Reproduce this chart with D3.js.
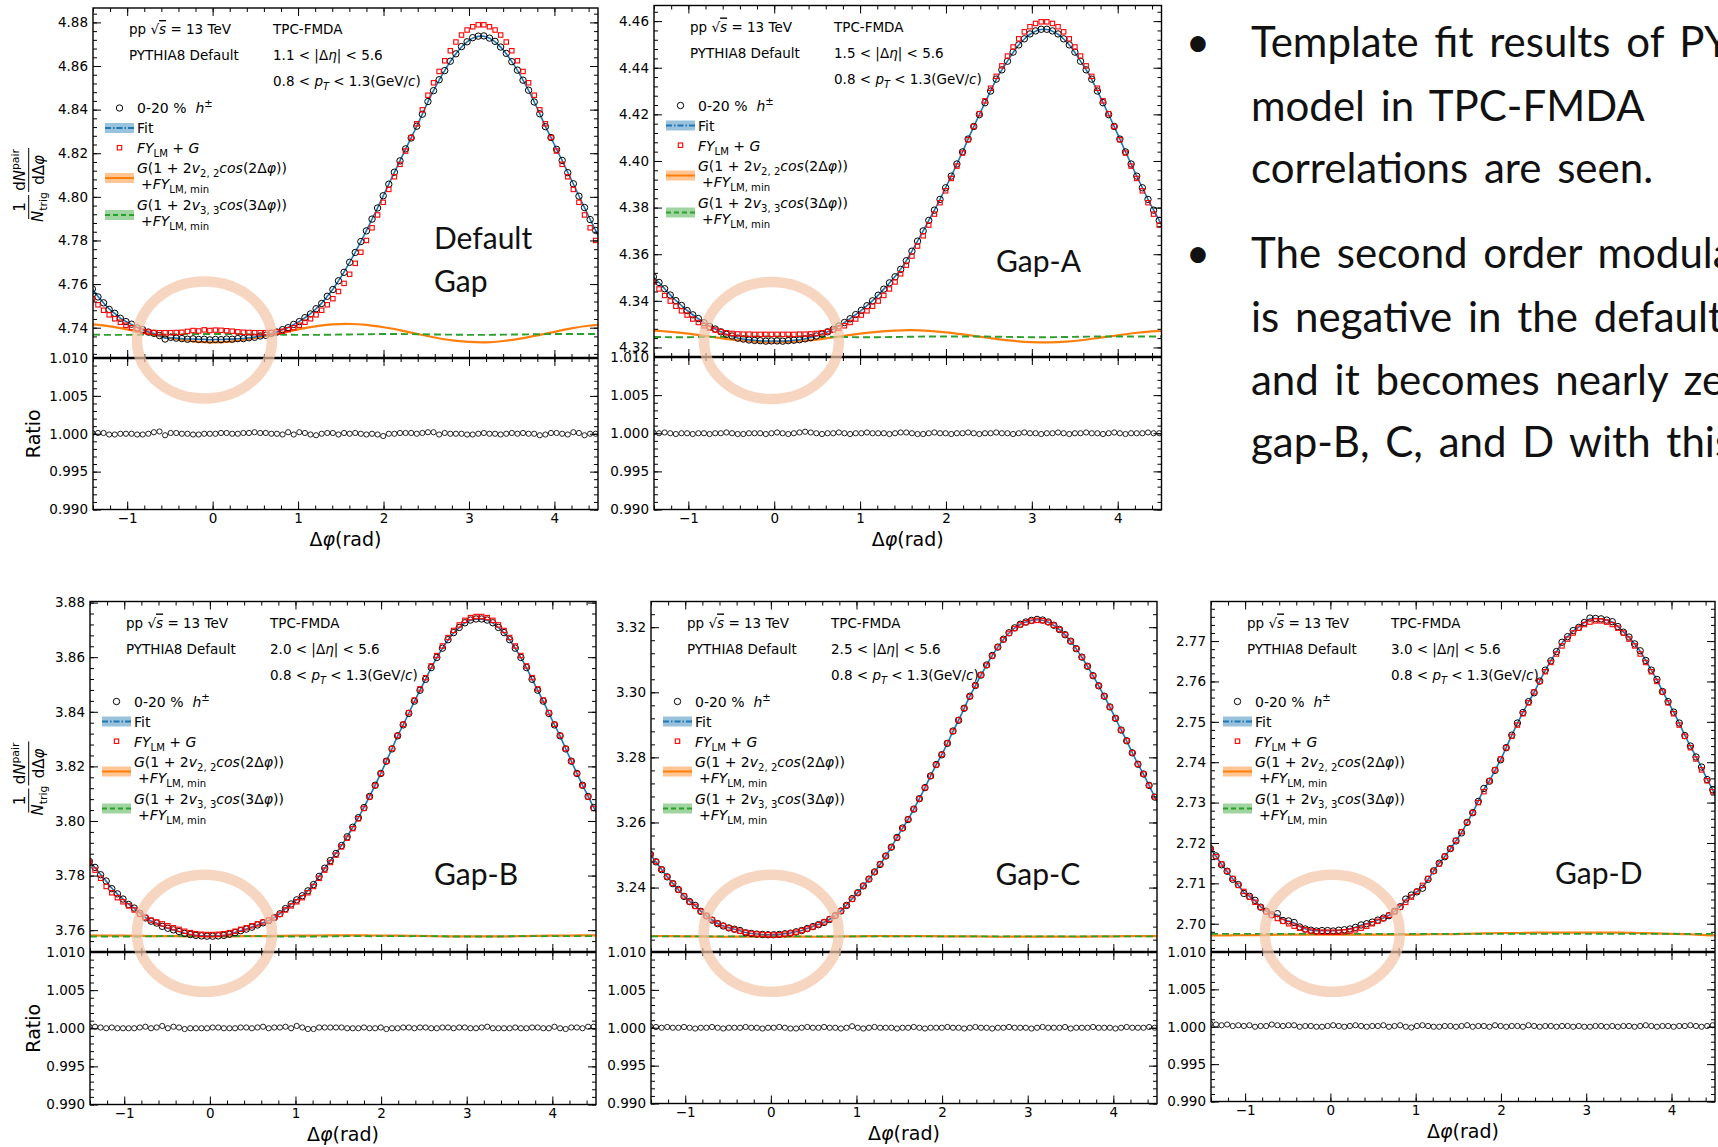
<!DOCTYPE html>
<html lang="en">
<head>
<meta charset="UTF-8">
<title>Template fit results, PYTHIA8</title>
<style>
  html, body { margin: 0; padding: 0; background: #fff; overflow: hidden; }
  #fig text { font-family: "DejaVu Sans", sans-serif; white-space: pre; }
  #fig .note { font-family: Lato, "Open Sans", sans-serif; word-spacing: 5px; }
  #fig .tag { font-family: Lato, "Open Sans", sans-serif; }
</style>
</head>
<body>
<svg id="fig"></svg>
<script src="https://d3js.org/d3.v7.min.js"></script>
<script>
// ---------------- data ----------------
// 92 delta-phi bins, only -1.40 .. 4.51 is visible
const phi = d3.range(92).map(i => -1.4071 + i * 0.06545);
// sampling of the two template curves
const phiCurve = d3.range(31).map(i => -1.4 + i * 0.2);

// Default gap, 1.1 < |deta| < 5.6
const defData = [
  4.7578, 4.7541, 4.7514, 4.7484, 4.7466, 4.7443, 4.7428, 4.7416, 4.7399, 4.7391,
  4.7380, 4.7374, 4.7364, 4.7348, 4.7356, 4.7352, 4.7350, 4.7347, 4.7349, 4.7346,
  4.7347, 4.7344,
  4.7346, 4.7345, 4.7348, 4.7347, 4.7350, 4.7350, 4.7354, 4.7356, 4.7362, 4.7365,
  4.7374, 4.7380, 4.7391, 4.7400, 4.7415, 4.7428, 4.7446, 4.7463, 4.7487, 4.7511,
  4.7544, 4.7575, 4.7615, 4.7654, 4.7700, 4.7745, 4.7795, 4.7844, 4.7898, 4.7949,
  4.8005, 4.8058, 4.8113, 4.8165, 4.8220, 4.8270, 4.8324, 4.8379, 4.8437, 4.8487,
  4.8537, 4.8579, 4.8622, 4.8656, 4.8689, 4.8711, 4.8730, 4.8737,
  4.8738, 4.8728, 4.8713, 4.8687, 4.8658, 4.8620, 4.8581, 4.8535, 4.8489, 4.8435,
  4.8381, 4.8322, 4.8272, 4.8218, 4.8167, 4.8111, 4.8060, 4.8003, 4.7951, 4.7896,
  4.7846, 4.7793
];
const defFY = [
  4.7533, 4.7505, 4.7480, 4.7459, 4.7441, 4.7425, 4.7411, 4.7400, 4.7391, 4.7384,
  4.7380, 4.7378, 4.7377, 4.7377, 4.7377, 4.7378, 4.7379, 4.7383, 4.7387, 4.7385,
  4.7390, 4.7387,
  4.7389, 4.7388, 4.7386, 4.7384, 4.7381, 4.7379, 4.7378, 4.7377, 4.7377, 4.7377,
  4.7378, 4.7380, 4.7384, 4.7391, 4.7400, 4.7411, 4.7425, 4.7441, 4.7459, 4.7480,
  4.7505, 4.7533, 4.7566, 4.7603, 4.7645, 4.7695, 4.7746, 4.7800, 4.7858, 4.7917,
  4.7975, 4.8034, 4.8092, 4.8149, 4.8210, 4.8272, 4.8335, 4.8399, 4.8466, 4.8523,
  4.8575, 4.8624, 4.8670, 4.8710, 4.8742, 4.8765, 4.8780, 4.8789,
  4.8789, 4.8780, 4.8765, 4.8742, 4.8710, 4.8670, 4.8624, 4.8575, 4.8523, 4.8466,
  4.8399, 4.8335, 4.8272, 4.8210, 4.8149, 4.8092, 4.8034, 4.7975, 4.7917, 4.7858,
  4.7800, 4.7746
];
const defRatio = [
  1.0001, 1.0001, 1.0001, 0.9999, 0.9999, 1.0000, 1.0000, 1.0000, 0.9999, 0.9999,
  1.0000, 1.0002, 1.0003, 0.9998, 1.0001, 1.0001, 1.0000, 1.0000, 0.9999, 0.9999,
  1.0000, 1.0000, 1.0000, 1.0001, 1.0001, 1.0000, 1.0000, 1.0001, 1.0001, 1.0002,
  1.0001, 1.0001, 1.0000, 1.0000, 0.9999, 1.0002, 0.9999, 1.0002, 1.0001, 0.9999,
  0.9998, 1.0000, 1.0001, 1.0001, 0.9999, 1.0001, 1.0000, 1.0001, 1.0000, 0.9999,
  1.0000, 0.9999, 0.9997, 1.0000, 1.0000, 1.0001, 1.0001, 1.0001, 1.0000, 1.0001,
  1.0002, 1.0002, 0.9999, 1.0001, 1.0000, 1.0000, 1.0000, 0.9999, 0.9999, 1.0000,
  1.0001, 1.0000, 1.0000, 0.9999, 1.0000, 1.0001, 1.0000, 1.0001, 1.0000, 1.0000,
  0.9998, 0.9999, 1.0001, 1.0001, 1.0000, 0.9999, 1.0002, 1.0001, 0.9998, 1.0000,
  1.0000, 1.0000
];
const defV2 = [
  4.7415, 4.7406, 4.7392, 4.7376, 4.7360, 4.7346, 4.7336, 4.7333,
  4.7336, 4.7346, 4.7360, 4.7376, 4.7392, 4.7406, 4.7415,
  4.7417, 4.7413, 4.7402, 4.7388, 4.7371, 4.7355, 4.7342, 4.7335,
  4.7333, 4.7339, 4.7350, 4.7365, 4.7381, 4.7397, 4.7409, 4.7416
];
const defV3 = [
  4.7368, 4.7367, 4.7367, 4.7368, 4.7369, 4.7370, 4.7371, 4.7371,
  4.7371, 4.7370, 4.7369, 4.7368, 4.7367, 4.7367, 4.7368,
  4.7369, 4.7370, 4.7371, 4.7371, 4.7370, 4.7369, 4.7368, 4.7367,
  4.7367, 4.7368, 4.7369, 4.7370, 4.7371, 4.7371, 4.7371, 4.7370
];

// Gap-A, 1.5 < |deta| < 5.6
const gapAData = [
  4.3503, 4.3479, 4.3452, 4.3425, 4.3401, 4.3380, 4.3358, 4.3340, 4.3324, 4.3306,
  4.3290, 4.3279, 4.3267, 4.3256, 4.3249, 4.3240, 4.3236, 4.3232, 4.3230, 4.3229,
  4.3227, 4.3228,
  4.3228, 4.3227, 4.3229, 4.3231, 4.3233, 4.3237, 4.3242, 4.3249, 4.3257, 4.3267,
  4.3278, 4.3292, 4.3307, 4.3323, 4.3341, 4.3359, 4.3379, 4.3400, 4.3424, 4.3450,
  4.3477, 4.3503, 4.3535, 4.3572, 4.3613, 4.3656, 4.3700, 4.3745, 4.3789, 4.3835,
  4.3885, 4.3935, 4.3987, 4.4039, 4.4094, 4.4148, 4.4199, 4.4250, 4.4300, 4.4351,
  4.4391, 4.4428, 4.4467, 4.4498, 4.4524, 4.4545, 4.4558, 4.4565,
  4.4565, 4.4558, 4.4545, 4.4524, 4.4498, 4.4467, 4.4428, 4.4391, 4.4351, 4.4300,
  4.4250, 4.4199, 4.4148, 4.4094, 4.4039, 4.3987, 4.3935, 4.3885, 4.3835, 4.3789,
  4.3745, 4.3700
];
const gapAFY = [
  4.3481, 4.3451, 4.3423, 4.3399, 4.3377, 4.3357, 4.3339, 4.3322, 4.3307, 4.3293,
  4.3283, 4.3275, 4.3268, 4.3263, 4.3260, 4.3258, 4.3257, 4.3257, 4.3256, 4.3256,
  4.3256, 4.3256,
  4.3256, 4.3256, 4.3256, 4.3256, 4.3257, 4.3257, 4.3258, 4.3260, 4.3263, 4.3268,
  4.3275, 4.3283, 4.3293, 4.3307, 4.3322, 4.3339, 4.3357, 4.3377, 4.3399, 4.3423,
  4.3451, 4.3481, 4.3516, 4.3553, 4.3592, 4.3635, 4.3679, 4.3725, 4.3772, 4.3821,
  4.3872, 4.3925, 4.3978, 4.4034, 4.4091, 4.4148, 4.4203, 4.4258, 4.4312, 4.4363,
  4.4408, 4.4450, 4.4489, 4.4524, 4.4554, 4.4576, 4.4590, 4.4597,
  4.4597, 4.4590, 4.4576, 4.4554, 4.4524, 4.4489, 4.4450, 4.4408, 4.4363, 4.4312,
  4.4258, 4.4203, 4.4148, 4.4091, 4.4034, 4.3978, 4.3925, 4.3872, 4.3821, 4.3772,
  4.3725, 4.3679
];
const gapARatio = [
  1.0001, 1.0000, 1.0001, 1.0000, 0.9999, 1.0000, 1.0000, 0.9999, 1.0000, 1.0000,
  0.9999, 1.0000, 1.0000, 1.0001, 1.0000, 0.9999, 0.9999, 1.0000, 1.0000, 1.0000,
  0.9999, 1.0000, 1.0001, 1.0000, 0.9999, 1.0000, 1.0001, 1.0002, 1.0001, 1.0000,
  0.9999, 1.0000, 1.0000, 1.0001, 1.0000, 0.9999, 1.0000, 1.0000, 1.0001, 1.0000,
  1.0000, 1.0000, 0.9999, 1.0000, 1.0001, 1.0001, 1.0000, 0.9999, 0.9999, 1.0000,
  1.0001, 1.0000, 1.0000, 0.9999, 1.0000, 1.0000, 1.0001, 1.0000, 0.9999, 1.0000,
  1.0000, 1.0001, 1.0000, 1.0000, 0.9999, 1.0000, 1.0001, 1.0000, 1.0000, 0.9999,
  1.0000, 1.0000, 1.0001, 1.0000, 0.9999, 1.0000, 1.0000, 1.0001, 1.0000, 1.0000,
  0.9999, 1.0000, 1.0001, 1.0000, 0.9999, 1.0000, 1.0000, 1.0000, 1.0001, 1.0000,
  1.0000, 0.9999
];
const gapAV2 = [
  4.3272, 4.3267, 4.3259, 4.3249, 4.3239, 4.3230, 4.3224, 4.3222,
  4.3224, 4.3230, 4.3239, 4.3249, 4.3259, 4.3267, 4.3272,
  4.3274, 4.3271, 4.3265, 4.3256, 4.3246, 4.3236, 4.3228, 4.3223,
  4.3222, 4.3225, 4.3232, 4.3242, 4.3252, 4.3262, 4.3269, 4.3273
];
const gapAV3 = [
  4.3245, 4.3244, 4.3244, 4.3245, 4.3246, 4.3247, 4.3247, 4.3247,
  4.3247, 4.3247, 4.3246, 4.3245, 4.3244, 4.3244, 4.3245,
  4.3246, 4.3247, 4.3247, 4.3247, 4.3247, 4.3246, 4.3245, 4.3244,
  4.3244, 4.3245, 4.3246, 4.3247, 4.3247, 4.3247, 4.3247, 4.3246
];

// Gap-B, 2.0 < |deta| < 5.6
const gapBData = [
  3.7852, 3.7830, 3.7803, 3.7780, 3.7752, 3.7733, 3.7714, 3.7694, 3.7681, 3.7662,
  3.7645, 3.7633, 3.7626, 3.7614, 3.7607, 3.7601, 3.7595, 3.7588, 3.7584, 3.7581,
  3.7579, 3.7578,
  3.7578, 3.7579, 3.7581, 3.7585, 3.7591, 3.7598, 3.7604, 3.7611, 3.7619, 3.7627,
  3.7635, 3.7646, 3.7660, 3.7679, 3.7696, 3.7711, 3.7726, 3.7744, 3.7767, 3.7797,
  3.7827, 3.7855, 3.7881, 3.7910, 3.7942, 3.7977, 3.8012, 3.8049, 3.8090, 3.8131,
  3.8174, 3.8219, 3.8264, 3.8312, 3.8352, 3.8394, 3.8439, 3.8479, 3.8519, 3.8562,
  3.8599, 3.8633, 3.8664, 3.8690, 3.8709, 3.8726, 3.8736, 3.8740,
  3.8740, 3.8736, 3.8726, 3.8709, 3.8690, 3.8664, 3.8633, 3.8599, 3.8562, 3.8519,
  3.8479, 3.8439, 3.8394, 3.8352, 3.8312, 3.8264, 3.8219, 3.8174, 3.8131, 3.8090,
  3.8049, 3.8012
];
const gapBFY = [
  3.7848, 3.7820, 3.7790, 3.7760, 3.7737, 3.7719, 3.7704, 3.7689, 3.7674, 3.7658,
  3.7646, 3.7637, 3.7630, 3.7623, 3.7616, 3.7609, 3.7603, 3.7596, 3.7591, 3.7587,
  3.7585, 3.7584,
  3.7584, 3.7585, 3.7587, 3.7591, 3.7596, 3.7603, 3.7609, 3.7616, 3.7623, 3.7630,
  3.7637, 3.7646, 3.7658, 3.7674, 3.7689, 3.7704, 3.7719, 3.7737, 3.7760, 3.7790,
  3.7820, 3.7848, 3.7875, 3.7905, 3.7937, 3.7972, 3.8008, 3.8046, 3.8088, 3.8130,
  3.8174, 3.8219, 3.8265, 3.8313, 3.8354, 3.8397, 3.8443, 3.8484, 3.8525, 3.8568,
  3.8606, 3.8641, 3.8672, 3.8698, 3.8718, 3.8735, 3.8745, 3.8749,
  3.8749, 3.8745, 3.8735, 3.8718, 3.8698, 3.8672, 3.8641, 3.8606, 3.8568, 3.8525,
  3.8484, 3.8443, 3.8397, 3.8354, 3.8313, 3.8265, 3.8219, 3.8174, 3.8130, 3.8088,
  3.8046, 3.8008
];
const gapBRatio = [
  1.0002, 1.0002, 1.0001, 1.0000, 1.0001, 1.0000, 1.0000, 1.0000, 1.0000, 1.0001,
  1.0002, 1.0000, 1.0001, 1.0003, 1.0000, 1.0002, 1.0001, 0.9999, 1.0000, 1.0000,
  1.0000, 1.0000, 1.0001, 1.0001, 1.0000, 1.0000, 1.0000, 1.0001, 1.0001, 1.0000,
  1.0001, 1.0002, 1.0000, 1.0001, 1.0001, 1.0002, 1.0000, 1.0003, 1.0001, 0.9999,
  0.9999, 1.0001, 1.0001, 1.0001, 1.0001, 1.0001, 1.0000, 1.0000, 1.0000, 1.0001,
  1.0000, 1.0000, 1.0001, 0.9999, 1.0000, 1.0000, 1.0001, 1.0001, 1.0000, 1.0001,
  1.0001, 1.0000, 1.0000, 1.0001, 1.0001, 1.0000, 1.0001, 1.0001, 1.0000, 1.0000,
  1.0001, 1.0002, 1.0000, 1.0000, 1.0000, 1.0000, 1.0001, 1.0000, 1.0000, 1.0001,
  1.0001, 1.0000, 1.0000, 1.0002, 1.0000, 0.9999, 1.0001, 1.0001, 1.0000, 1.0002,
  1.0002, 1.0000
];
const gapBV2 = [
  3.7581, 3.7580, 3.7580, 3.7579, 3.7578, 3.7578, 3.7577, 3.7577,
  3.7577, 3.7578, 3.7578, 3.7579, 3.7580, 3.7580, 3.7581,
  3.7581, 3.7581, 3.7580, 3.7580, 3.7579, 3.7578, 3.7577, 3.7577,
  3.7577, 3.7577, 3.7578, 3.7579, 3.7580, 3.7580, 3.7581, 3.7581
];
const gapBV3 = [
  3.7577, 3.7577, 3.7577, 3.7577, 3.7578, 3.7578, 3.7578, 3.7578,
  3.7578, 3.7578, 3.7578, 3.7577, 3.7577, 3.7577, 3.7577,
  3.7578, 3.7578, 3.7578, 3.7578, 3.7578, 3.7578, 3.7577, 3.7577,
  3.7577, 3.7577, 3.7578, 3.7578, 3.7578, 3.7578, 3.7578, 3.7578
];

// Gap-C, 2.5 < |deta| < 5.6
const gapCData = [
  3.2502, 3.2479, 3.2455, 3.2433, 3.2412, 3.2394, 3.2373, 3.2357, 3.2345, 3.2327,
  3.2313, 3.2300, 3.2289, 3.2282, 3.2276, 3.2272, 3.2268, 3.2261, 3.2259, 3.2257,
  3.2256, 3.2255,
  3.2255, 3.2256, 3.2258, 3.2260, 3.2264, 3.2268, 3.2274, 3.2280, 3.2286, 3.2293,
  3.2302, 3.2314, 3.2328, 3.2345, 3.2366, 3.2384, 3.2405, 3.2426, 3.2448, 3.2471,
  3.2497, 3.2524, 3.2554, 3.2583, 3.2609, 3.2641, 3.2673, 3.2707, 3.2743, 3.2778,
  3.2808, 3.2843, 3.2881, 3.2914, 3.2951, 3.2988, 3.3021, 3.3053, 3.3084, 3.3113,
  3.3139, 3.3163, 3.3183, 3.3198, 3.3209, 3.3216, 3.3221, 3.3224,
  3.3222, 3.3216, 3.3206, 3.3193, 3.3177, 3.3157, 3.3134, 3.3108, 3.3080, 3.3051,
  3.3020, 3.2988, 3.2955, 3.2920, 3.2884, 3.2851, 3.2814, 3.2779, 3.2749, 3.2714,
  3.2678, 3.2644
];
const gapCFY = [
  3.2501, 3.2480, 3.2456, 3.2433, 3.2413, 3.2393, 3.2374, 3.2356, 3.2342, 3.2327,
  3.2313, 3.2301, 3.2290, 3.2283, 3.2276, 3.2271, 3.2266, 3.2262, 3.2259, 3.2257,
  3.2256, 3.2255,
  3.2254, 3.2255, 3.2257, 3.2260, 3.2263, 3.2268, 3.2273, 3.2279, 3.2286, 3.2294,
  3.2303, 3.2314, 3.2328, 3.2345, 3.2364, 3.2384, 3.2405, 3.2426, 3.2448, 3.2472,
  3.2497, 3.2524, 3.2553, 3.2582, 3.2610, 3.2641, 3.2673, 3.2707, 3.2742, 3.2777,
  3.2809, 3.2844, 3.2880, 3.2915, 3.2951, 3.2987, 3.3021, 3.3053, 3.3083, 3.3112,
  3.3139, 3.3162, 3.3181, 3.3196, 3.3207, 3.3214, 3.3219, 3.3221,
  3.3220, 3.3215, 3.3206, 3.3193, 3.3177, 3.3157, 3.3134, 3.3108, 3.3080, 3.3051,
  3.3020, 3.2988, 3.2955, 3.2920, 3.2884, 3.2851, 3.2814, 3.2779, 3.2749, 3.2714,
  3.2679, 3.2644
];
const gapCRatio = [
  1.0002, 1.0001, 1.0000, 1.0001, 1.0000, 1.0000, 1.0001, 1.0000, 0.9999, 1.0000,
  1.0000, 1.0001, 1.0000, 0.9999, 1.0000, 1.0000, 1.0000, 1.0001, 1.0000, 1.0000,
  0.9999, 1.0000, 1.0000, 1.0001, 1.0000, 0.9999, 0.9999, 1.0000, 1.0001, 1.0000,
  1.0000, 1.0001, 1.0000, 1.0000, 0.9999, 1.0000, 1.0002, 1.0000, 0.9999, 1.0000,
  1.0001, 1.0000, 1.0000, 1.0000, 0.9999, 1.0000, 1.0000, 1.0001, 1.0000, 0.9999,
  1.0000, 1.0000, 1.0000, 1.0001, 1.0000, 1.0000, 0.9999, 1.0000, 1.0001, 1.0000,
  1.0000, 0.9999, 1.0000, 1.0000, 1.0001, 1.0000, 1.0000, 1.0000, 0.9999, 1.0000,
  1.0001, 1.0000, 1.0000, 1.0000, 1.0001, 0.9999, 1.0000, 1.0000, 1.0000, 1.0001,
  1.0000, 1.0000, 1.0000, 0.9999, 1.0000, 1.0001, 1.0000, 1.0000, 1.0000, 1.0001,
  1.0000, 1.0000
];
const gapCV2 = [
  3.2251, 3.2251, 3.2250, 3.2250, 3.2249, 3.2249, 3.2249, 3.2249,
  3.2249, 3.2249, 3.2249, 3.2250, 3.2250, 3.2251, 3.2251,
  3.2251, 3.2251, 3.2250, 3.2250, 3.2250, 3.2249, 3.2249, 3.2249,
  3.2249, 3.2249, 3.2249, 3.2250, 3.2250, 3.2251, 3.2251, 3.2251
];
const gapCV3 = [
  3.2250, 3.2250, 3.2250, 3.2250, 3.2250, 3.2250, 3.2250, 3.2250,
  3.2250, 3.2250, 3.2250, 3.2250, 3.2250, 3.2250, 3.2250,
  3.2250, 3.2250, 3.2250, 3.2250, 3.2250, 3.2250, 3.2250, 3.2250,
  3.2250, 3.2250, 3.2250, 3.2250, 3.2250, 3.2250, 3.2250, 3.2250
];

// Gap-D, 3.0 < |deta| < 5.6
const gapDData = [
  2.7186, 2.7168, 2.7146, 2.7130, 2.7110, 2.7097, 2.7075, 2.7068, 2.7058, 2.7041,
  2.7031, 2.7022, 2.7025, 2.7008, 2.7007, 2.7003, 2.6992, 2.6987, 2.6984, 2.6982,
  2.6983, 2.6983,
  2.6982, 2.6984, 2.6985, 2.6987, 2.6991, 2.6997, 2.7000, 2.7004, 2.7009, 2.7014,
  2.7020, 2.7031, 2.7042, 2.7061, 2.7071, 2.7079, 2.7088, 2.7110, 2.7131, 2.7150,
  2.7166, 2.7186, 2.7205, 2.7225, 2.7251, 2.7275, 2.7303, 2.7335, 2.7353, 2.7380,
  2.7406, 2.7436, 2.7467, 2.7497, 2.7523, 2.7550, 2.7572, 2.7601, 2.7628, 2.7651,
  2.7674, 2.7697, 2.7711, 2.7726, 2.7734, 2.7746, 2.7757, 2.7756,
  2.7755, 2.7752, 2.7748, 2.7736, 2.7722, 2.7710, 2.7693, 2.7676, 2.7652, 2.7628,
  2.7605, 2.7575, 2.7550, 2.7524, 2.7497, 2.7466, 2.7440, 2.7413, 2.7388, 2.7357,
  2.7332, 2.7300
];
const gapDFY = [
  2.7184, 2.7166, 2.7148, 2.7130, 2.7112, 2.7095, 2.7080, 2.7066, 2.7053, 2.7041,
  2.7030, 2.7021, 2.7013, 2.7006, 2.7000, 2.6994, 2.6989, 2.6985, 2.6982, 2.6980,
  2.6979, 2.6979,
  2.6979, 2.6979, 2.6980, 2.6982, 2.6985, 2.6989, 2.6994, 2.7000, 2.7006, 2.7013,
  2.7021, 2.7030, 2.7041, 2.7053, 2.7066, 2.7080, 2.7095, 2.7112, 2.7130, 2.7148,
  2.7167, 2.7186, 2.7206, 2.7228, 2.7251, 2.7275, 2.7300, 2.7327, 2.7354, 2.7381,
  2.7408, 2.7436, 2.7464, 2.7492, 2.7520, 2.7547, 2.7574, 2.7600, 2.7624, 2.7647,
  2.7668, 2.7688, 2.7705, 2.7720, 2.7732, 2.7741, 2.7747, 2.7750,
  2.7750, 2.7747, 2.7741, 2.7732, 2.7720, 2.7705, 2.7688, 2.7668, 2.7647, 2.7624,
  2.7600, 2.7574, 2.7547, 2.7520, 2.7492, 2.7464, 2.7436, 2.7408, 2.7381, 2.7354,
  2.7327, 2.7300
];
const gapDRatio = [
  1.0004, 1.0003, 1.0002, 1.0003, 1.0001, 1.0002, 1.0001, 1.0002, 1.0000, 1.0001,
  1.0001, 1.0003, 1.0002, 1.0001, 1.0002, 1.0002, 1.0000, 1.0001, 1.0001, 1.0000,
  1.0000, 1.0001, 1.0002, 1.0001, 1.0000, 1.0001, 1.0002, 1.0001, 1.0000, 1.0001,
  1.0001, 1.0002, 1.0000, 1.0001, 1.0002, 1.0000, 0.9999, 1.0001, 1.0002, 1.0001,
  1.0000, 1.0000, 1.0001, 1.0001, 1.0000, 1.0001, 1.0002, 1.0000, 1.0001, 1.0001,
  1.0000, 1.0002, 1.0001, 1.0000, 1.0001, 1.0001, 1.0000, 1.0002, 1.0001, 1.0000,
  1.0001, 1.0001, 1.0000, 1.0001, 1.0001, 1.0000, 1.0001, 1.0000, 1.0000, 1.0001,
  1.0001, 1.0000, 1.0001, 1.0000, 1.0001, 1.0001, 1.0000, 1.0001, 1.0002, 1.0001,
  1.0000, 1.0001, 1.0001, 1.0000, 1.0001, 1.0001, 1.0002, 1.0001, 1.0000, 1.0001,
  1.0002, 1.0001
];
const gapDV2 = [
  2.6971, 2.6971, 2.6972, 2.6972, 2.6973, 2.6973, 2.6973, 2.6973,
  2.6973, 2.6973, 2.6973, 2.6973, 2.6973, 2.6974, 2.6974,
  2.6975, 2.6976, 2.6977, 2.6977, 2.6978, 2.6978, 2.6978, 2.6978,
  2.6978, 2.6978, 2.6977, 2.6976, 2.6975, 2.6974, 2.6972, 2.6971
];
const gapDV3 = [
  2.6975, 2.6975, 2.6975, 2.6975, 2.6975, 2.6975, 2.6975, 2.6975,
  2.6975, 2.6975, 2.6975, 2.6975, 2.6975, 2.6975, 2.6975,
  2.6975, 2.6975, 2.6975, 2.6975, 2.6975, 2.6975, 2.6975, 2.6975,
  2.6975, 2.6975, 2.6975, 2.6975, 2.6975, 2.6975, 2.6975, 2.6975
];

const etaRanges = ['1.1', '1.5', '2.0', '2.5', '3.0'];
const gapTags = [['Default', 'Gap'], ['Gap-A'], ['Gap-B'], ['Gap-C'], ['Gap-D']];
const noteLines = [
  { bullet: true, text: 'Template fit results of PYTHIA8' },
  { bullet: false, text: 'model in TPC-FMDA' },
  { bullet: false, text: 'correlations are seen.' },
  { bullet: true, text: 'The second order modulation' },
  { bullet: false, text: 'is negative in the default gap,' },
  { bullet: false, text: 'and it becomes nearly zero in' },
  { bullet: false, text: 'gap-B, C, and D with this' }
];

// ---------------- layout ----------------
const width = 1718, height = 1147;
const svg = d3.select('#fig').attr('width', width).attr('height', height);

const panels = [
  { x: [93, 598], top: 8, split: 358, bottom: 509.5, yDom: [4.7261, 4.8866], yStep: 0.02, yMinor: 0.004,
    data: defData, fy: defFY, ratio: defRatio, v2: defV2, v3: defV3, eta: etaRanges[0], tag: gapTags[0],
    tagPos: [434, 248.5], ring: [204.5, 340], yTitle: true },
  { x: [654, 1161.5], top: 5.5, split: 357, bottom: 509.5, yDom: [4.3159, 4.4667], yStep: 0.02, yMinor: 0.004,
    data: gapAData, fy: gapAFY, ratio: gapARatio, v2: gapAV2, v3: gapAV3, eta: etaRanges[1], tag: gapTags[1],
    tagPos: [996, 271.5], ring: [771.5, 340.5], yTitle: false },
  { x: [90, 596], top: 601.5, split: 952, bottom: 1104.5, yDom: [3.7520, 3.8804], yStep: 0.02, yMinor: 0.004,
    data: gapBData, fy: gapBFY, ratio: gapBRatio, v2: gapBV2, v3: gapBV3, eta: etaRanges[2], tag: gapTags[2],
    tagPos: [434, 885], ring: [204.5, 933.3], yTitle: true },
  { x: [651, 1157], top: 601.5, split: 952, bottom: 1103.5, yDom: [3.2202, 3.3279], yStep: 0.02, yMinor: 0.004,
    data: gapCData, fy: gapCFY, ratio: gapCRatio, v2: gapCV2, v3: gapCV3, eta: etaRanges[3], tag: gapTags[3],
    tagPos: [995.5, 885], ring: [771.2, 933.3], yTitle: false },
  { x: [1211, 1715], top: 601.5, split: 952, bottom: 1101.5, yDom: [2.6930, 2.7798], yStep: 0.01, yMinor: 0.002,
    data: gapDData, fy: gapDFY, ratio: gapDRatio, v2: gapDV2, v3: gapDV3, eta: etaRanges[4], tag: gapTags[4],
    tagPos: [1555, 883.5], ring: [1332.3, 933.3], yTitle: false }
];

const C_FIT = '#1f77b4', C_V2 = '#ff7f0e', C_V3 = '#2ca02c';

function stepTicks(dom, step) {
  const lo = Math.min(dom[0], dom[1]), hi = Math.max(dom[0], dom[1]);
  const n0 = Math.ceil(lo / step - 1e-6), n1 = Math.floor(hi / step + 1e-6);
  return d3.range(n0, n1 + 1).map(k => +(k * step).toFixed(6));
}

// text with italic / sub / sup pieces, like matplotlib mathtext
function rich(parent, x, y, parts, size) {
  const t = parent.append('text').attr('x', x).attr('y', y).attr('font-size', size);
  let shift = 0;
  parts.forEach(p => {
    if (typeof p === 'string') p = { t: p };
    const s = t.append('tspan').text(p.t);
    const target = p.sub ? size * 0.3 : p.sup ? -size * 0.4 : 0;
    if (target !== shift) { s.attr('dy', target - shift); shift = target; }
    if (p.sub || p.sup) s.attr('font-size', size * 0.72);
    if (p.it) s.attr('font-style', 'italic');
    if (p.ov) s.style('text-decoration', 'overline');
  });
  return t;
}

function drawPanel(p, idx) {
  const g = svg.append('g');
  const x = d3.scaleLinear().domain([-1.40, 4.51]).range(p.x);
  const y = d3.scaleLinear().domain(p.yDom).range([p.split, p.top]);
  const yr = d3.scaleLinear().domain([0.99, 1.01]).range([p.bottom, p.split]);
  const w = p.x[1] - p.x[0];

  const defs = svg.append('defs');
  defs.append('clipPath').attr('id', 'cu' + idx).append('rect')
    .attr('x', p.x[0]).attr('y', p.top).attr('width', w).attr('height', p.split - p.top);
  defs.append('clipPath').attr('id', 'cr' + idx).append('rect')
    .attr('x', p.x[0]).attr('y', p.split).attr('width', w).attr('height', p.bottom - p.split);

  // upper panel
  const up = g.append('g').attr('clip-path', `url(#cu${idx})`);
  const curveLine = d3.line().x((d, i) => x(phiCurve[i])).y(d => y(d)).curve(d3.curveNatural);
  up.append('path').attr('d', curveLine(p.v2)).attr('fill', 'none')
    .attr('stroke', C_V2).attr('stroke-width', 2.2);
  up.append('path').attr('d', curveLine(p.v3)).attr('fill', 'none')
    .attr('stroke', C_V3).attr('stroke-width', 1.9).attr('stroke-dasharray', '7,4');

  const n = Math.min(phi.length, p.data.length);
  const pts = d3.range(n).map(i => [phi[i], p.data[i]]);
  const fitLine = d3.line().x(d => x(d[0])).y(d => y(d[1])).curve(d3.curveBasis);
  up.append('path').attr('d', fitLine(pts)).attr('fill', 'none')
    .attr('stroke', C_FIT).attr('stroke-width', 1.6);

  up.selectAll('circle.pt').data(pts).join('circle').attr('class', 'pt')
    .attr('cx', d => x(d[0])).attr('cy', d => y(d[1])).attr('r', 3.2)
    .attr('fill', 'none').attr('stroke', '#000').attr('stroke-width', 1);

  const fyPts = d3.range(Math.min(phi.length, p.fy.length)).map(i => [phi[i], p.fy[i]]);
  up.selectAll('rect.fy').data(fyPts).join('rect').attr('class', 'fy')
    .attr('x', d => x(d[0]) - 2.2).attr('y', d => y(d[1]) - 2.2)
    .attr('width', 4.4).attr('height', 4.4)
    .attr('fill', 'none').attr('stroke', '#ff0000').attr('stroke-width', 1.1);

  // ratio panel
  const lo = g.append('g').attr('clip-path', `url(#cr${idx})`);
  const rPts = d3.range(Math.min(phi.length, p.ratio.length)).map(i => [phi[i], p.ratio[i]]);
  lo.selectAll('circle').data(rPts).join('circle')
    .attr('cx', d => x(d[0])).attr('cy', d => yr(d[1])).attr('r', 2.6)
    .attr('fill', 'none').attr('stroke', '#222').attr('stroke-width', 1);

  // axes: inward ticks on all sides
  const ax = g.append('g');
  const put = (axis, tx, ty) => ax.append('g').attr('transform', `translate(${tx},${ty})`).call(axis)
    .call(s => s.select('.domain').remove())
    .attr('font-family', 'DejaVu Sans').attr('font-size', 13.5)
    .call(s => s.selectAll('line').attr('stroke', '#000'));
  const xMaj = stepTicks(x.domain(), 1), xMin = stepTicks(x.domain(), 0.2);
  const yMaj = stepTicks(p.yDom, p.yStep), yMin = stepTicks(p.yDom, p.yMinor);
  const rMaj = stepTicks([0.99, 1.01], 0.005), rMin = stepTicks([0.99, 1.01], 0.001);
  const none = () => '';
  [[xMin, 4, false], [xMaj, 8, true]].forEach(([v, len, lab]) => {
    put(d3.axisTop(x).tickValues(v).tickSize(-len).tickFormat(none), 0, p.top);
    put(d3.axisBottom(x).tickValues(v).tickSize(-len).tickFormat(none), 0, p.split);
    put(d3.axisTop(x).tickValues(v).tickSize(-len).tickFormat(none), 0, p.split);
    put(d3.axisBottom(x).tickValues(v).tickSize(-len).tickPadding(4)
      .tickFormat(lab ? d3.format('d') : none), 0, p.bottom);
  });
  [[yMin, 4, false], [yMaj, 8, true]].forEach(([v, len, lab]) => {
    put(d3.axisLeft(y).tickValues(v).tickSize(-len).tickPadding(5)
      .tickFormat(lab ? d3.format('.2f') : none), p.x[0], 0);
    put(d3.axisRight(y).tickValues(v).tickSize(-len).tickFormat(none), p.x[1], 0);
  });
  [[rMin, 4, false], [rMaj, 8, true]].forEach(([v, len, lab]) => {
    put(d3.axisLeft(yr).tickValues(v).tickSize(-len).tickPadding(5)
      .tickFormat(lab ? d3.format('.3f') : none), p.x[0], 0);
    put(d3.axisRight(yr).tickValues(v).tickSize(-len).tickFormat(none), p.x[1], 0);
  });

  // frames
  g.append('rect').attr('x', p.x[0]).attr('y', p.top).attr('width', w).attr('height', p.bottom - p.top)
    .attr('fill', 'none').attr('stroke', '#000').attr('stroke-width', 1.4);
  g.append('line').attr('x1', p.x[0]).attr('x2', p.x[1]).attr('y1', p.split).attr('y2', p.split)
    .attr('stroke', '#000').attr('stroke-width', 2.4);

  // axis titles
  rich(g, (p.x[0] + p.x[1]) / 2, p.bottom + 36, ['Δ', { t: 'φ', it: true }, '(rad)'], 19)
    .attr('text-anchor', 'middle');
  if (p.yTitle) {
    const cy = (p.split + p.bottom) / 2;
    g.append('text').attr('transform', `translate(40,${cy}) rotate(-90)`)
      .attr('text-anchor', 'middle').attr('font-size', 19).text('Ratio');
    const fy0 = p.top + 176;
    const f = g.append('g').attr('transform', `translate(28.7,${fy0}) rotate(-90)`);
    f.append('text').attr('x', -23).attr('y', -4).attr('text-anchor', 'middle').attr('font-size', 15).text('1');
    f.append('line').attr('x1', -35).attr('x2', -11).attr('y1', 0).attr('y2', 0)
      .attr('stroke', '#000').attr('stroke-width', 1);
    rich(f, -23, 14, [{ t: 'N', it: true }, { t: 'trig', sub: true }], 15).attr('text-anchor', 'middle');
    rich(f, 14, -4, ['d', { t: 'N', it: true }, { t: 'pair', sup: true }], 15).attr('text-anchor', 'middle');
    f.append('line').attr('x1', -8).attr('x2', 36).attr('y1', 0).attr('y2', 0)
      .attr('stroke', '#000').attr('stroke-width', 1);
    rich(f, 14, 15, ['dΔ', { t: 'φ', it: true }], 15).attr('text-anchor', 'middle');
  }

  // header text
  const hx = p.x[0] + 36, hx2 = p.x[0] + 180, t0 = p.top;
  rich(g, hx, t0 + 26, ['pp ', '√', { t: 's', it: true, ov: true }, ' = 13 TeV'], 13.5);
  rich(g, hx, t0 + 52, ['PYTHIA8 Default'], 13.5);
  rich(g, hx2, t0 + 26, ['TPC-FMDA'], 13.5);
  rich(g, hx2, t0 + 52, [p.eta + ' < |Δ', { t: 'η', it: true }, '| < 5.6'], 13.5);
  rich(g, hx2, t0 + 78, ['0.8 < ', { t: 'p', it: true }, { t: 'T', it: true, sub: true },
    ' < 1.3(GeV/', { t: 'c', it: true }, ')'], 13.5);

  // legend
  const lx = p.x[0], tx = lx + 44;
  g.append('circle').attr('cx', lx + 26.5).attr('cy', t0 + 100).attr('r', 3.2)
    .attr('fill', 'none').attr('stroke', '#000');
  rich(g, tx, t0 + 105, ['0-20 %  ', { t: 'h', it: true }, { t: '±', sup: true }], 14);

  const band = (cy, col, dash, sw) => {
    g.append('rect').attr('x', lx + 12).attr('y', cy - 5).attr('width', 29).attr('height', 10)
      .attr('fill', col).attr('opacity', 0.45);
    g.append('line').attr('x1', lx + 12).attr('x2', lx + 41).attr('y1', cy).attr('y2', cy)
      .attr('stroke', col).attr('stroke-width', sw).attr('stroke-dasharray', dash);
  };
  band(t0 + 120, C_FIT, '6,2,1.5,2', 1.8);
  rich(g, tx, t0 + 125, ['Fit'], 14);

  g.append('rect').attr('x', lx + 24.3).attr('y', t0 + 137.5).attr('width', 4.4).attr('height', 4.4)
    .attr('fill', 'none').attr('stroke', '#ff0000').attr('stroke-width', 1.1);
  rich(g, tx, t0 + 145, [{ t: 'FY', it: true }, { t: 'LM', sub: true }, ' + ', { t: 'G', it: true }], 14);

  band(t0 + 170, C_V2, null, 2);
  rich(g, tx, t0 + 165, [{ t: 'G', it: true }, '(1 + 2', { t: 'v', it: true }, { t: '2, 2', sub: true },
    { t: 'cos', it: true }, '(2Δ', { t: 'φ', it: true }, '))'], 14);
  rich(g, tx + 4, t0 + 181, ['+', { t: 'FY', it: true }, { t: 'LM, min', sub: true }], 14);

  band(t0 + 207, C_V3, '5,3', 2);
  rich(g, tx, t0 + 202, [{ t: 'G', it: true }, '(1 + 2', { t: 'v', it: true }, { t: '3, 3', sub: true },
    { t: 'cos', it: true }, '(3Δ', { t: 'φ', it: true }, '))'], 14);
  rich(g, tx + 4, t0 + 218, ['+', { t: 'FY', it: true }, { t: 'LM, min', sub: true }], 14);

  // gap tag
  p.tag.forEach((s, k) => {
    g.append('text').attr('class', 'tag').attr('x', p.tagPos[0]).attr('y', p.tagPos[1] + k * 43.2)
      .attr('font-size', 30).attr('fill', '#111').text(s);
  });

  // highlight ring on the near-side minimum
  svg.append('ellipse').attr('cx', p.ring[0]).attr('cy', p.ring[1]).attr('rx', 67.5).attr('ry', 58.5)
    .attr('fill', 'none').attr('stroke', 'rgb(244,196,166)').attr('stroke-width', 10.5)
    .attr('opacity', 0.7);
}

panels.forEach(drawPanel);

// slide notes on the right
const note = svg.append('g');
const noteY = [57.3, 120.7, 183.3, 268.3, 331.7, 395, 457.3];
noteLines.forEach((l, i) => {
  if (l.bullet) {
    note.append('text').attr('class', 'note').attr('x', 1198).attr('y', noteY[i])
      .attr('text-anchor', 'middle').attr('font-size', 42).attr('fill', '#111').text('•');
  }
  note.append('text').attr('class', 'note').attr('x', 1251).attr('y', noteY[i])
    .attr('font-size', 42).attr('fill', '#111').text(l.text);
});
</script>
</body>
</html>
